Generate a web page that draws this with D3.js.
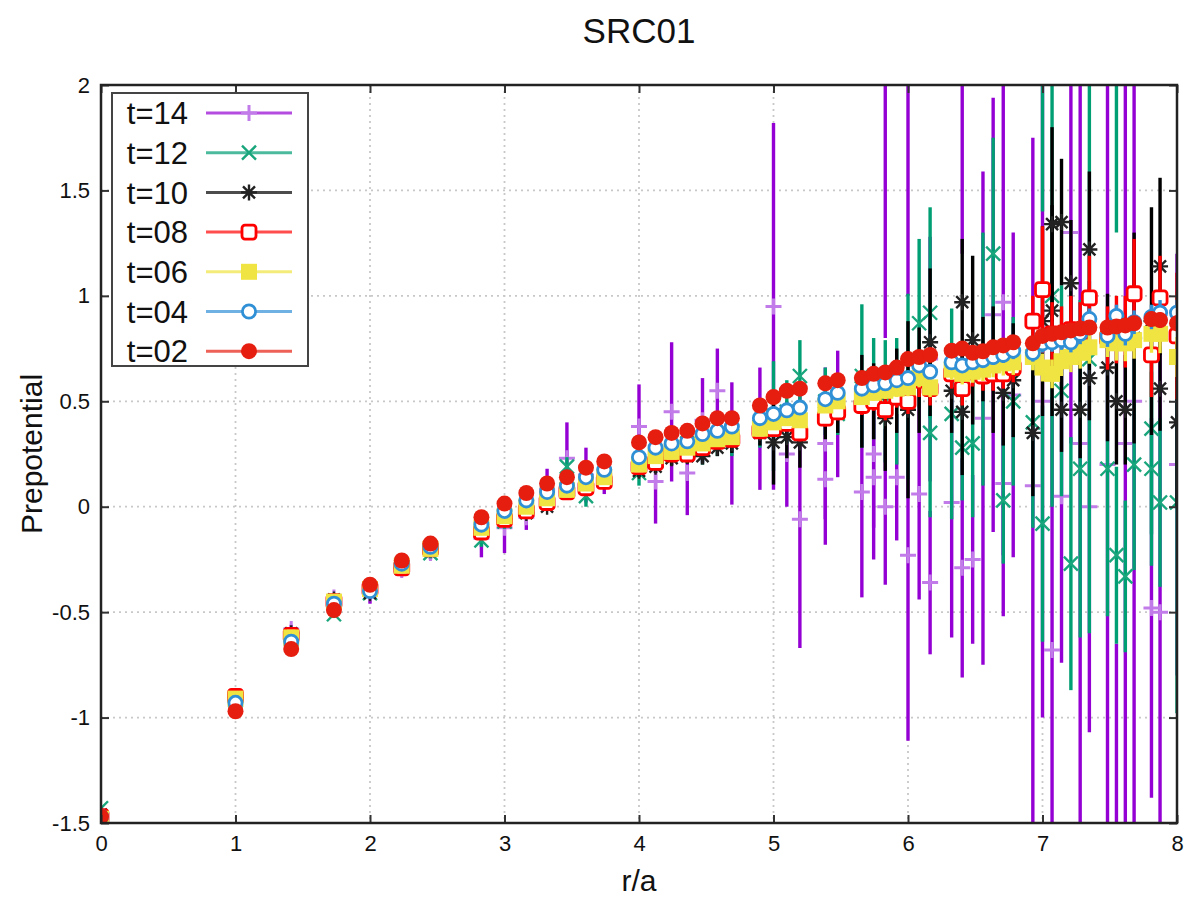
<!DOCTYPE html>
<html>
<head>
<meta charset="utf-8">
<script src="https://d3js.org/d3.v7.min.js"></script>
<style>
body { margin: 0; background: #fff; }
text { font-family: "Liberation Sans", Arial, Helvetica, sans-serif; }
</style>
</head>
<body>
<svg id="drawing_region"></svg>
<script>
// r/a positions (sqrt of lattice distances)
const rValues = [0, 1, 1.4142, 1.7321, 2, 2.2361, 2.4495, 2.8284, 3, 3.1623, 3.3166, 3.4641, 3.6056, 3.7417,
    4, 4.1231, 4.2426, 4.3589, 4.4721, 4.5826, 4.6904, 4.8990, 5, 5.0990, 5.1962, 5.3852, 5.4772, 5.6569,
    5.7446, 5.8310, 5.9161, 6, 6.0828, 6.1644, 6.3246, 6.4031, 6.4807, 6.5574, 6.6332, 6.7082, 6.7823,
    6.9282, 7, 7.0711, 7.1414, 7.2111, 7.2801, 7.3485, 7.4833, 7.5498, 7.6158, 7.6811, 7.8102, 7.8740, 8];

const t14 = [-1.47, -0.91, -0.58, -0.43, -0.41, -0.30, -0.22, -0.15, -0.10, -0.05, 0.08, 0.23, 0.15, 0.15, 0.38, 0.12, 0.45, 0.16, 0.41, 0.55, 0.30,
    0.37, 0.95, 0.25, -0.06, 0.13, 0.44, 0.07, 0.14, 0.0, 0.14,
    -0.23, 0.06, -0.36, 0.02, -0.29, -0.25, 0.42, 0.91, 0.11, 0.53,
    0.1, 0.5, -0.68, 0.05, 1.3, 0.3, 0.0, 0.2, -1.6, 0.3, 0.5, -0.48, -0.5, 0.2];
const t14Err = [0.010, 0.015, 0.020, 0.020, 0.050, 0.030, 0.030, 0.090, 0.120, 0.060, 0.100, 0.170, 0.130, 0.090, 0.200, 0.200, 0.330, 0.200, 0.200, 0.200, 0.290,
    0.29, 0.87, 0.25, 0.61, 0.31, 0.30, 0.50, 0.39, 0.37, 0.30,
    0.88, 0.50, 0.34, 0.64, 0.52, 0.40, 1.17, 1.03, 0.63, 0.77,
    1.65, 1.50, 1.20, 0.79, 1.00, 2.00, 1.07, 2.00, 0.95, 1.90, 2.20, 0.90, 1.50, 1.00];
// second path with the same r
const t14ExtraR = [5.3852, 5.7446, 5.8310, 6, 6.1644, 6.4031, 6.7082];
const t14Extra = [0.30, 0.25, 2.3, 2.2, 0.7, 2.5, 0.97];
const t14ExtraErr = [0.36, 0.35, 1.5, 1.2, 0.58, 1.3, 1.2];

const t12 = [-1.43, -0.92, -0.63, -0.51, -0.41, -0.29, -0.22, -0.16, -0.07, 0.0, 0.06, 0.19, 0.05, 0.15, 0.16, 0.22, 0.28, 0.30, 0.28, 0.32, 0.33,
    0.38, 0.43, 0.45, 0.62, 0.50, 0.44, 0.62, 0.56, 0.50, 0.50,
    0.57, 0.87, 0.35, 0.44, 0.28, 0.30, 0.70, 1.20, 0.03, 0.50,
    0.40, -0.08, 1.0, 0.55, -0.27, 0.18, 0.7, 0.18, -0.23, -0.33, 0.20, 0.18, 0.02, 0.02];
const t12Err = [0.010, 0.012, 0.015, 0.018, 0.020, 0.022, 0.025, 0.030, 0.035, 0.040, 0.040, 0.045, 0.050, 0.050, 0.060, 0.060, 0.070, 0.070, 0.080, 0.080, 0.090,
    0.10, 0.26, 0.15, 0.17, 0.16, 0.10, 0.34, 0.24, 0.29, 0.30,
    0.44, 0.40, 0.40, 0.50, 0.25, 0.35, 0.60, 0.55, 0.30, 0.40,
    0.50, 0.56, 1.00, 0.50, 0.60, 0.80, 1.30, 0.70, 0.42, 0.36, 0.50, 0.46, 0.40, 1.00];
const t12ExtraR = [6.1644, 7, 7.5498, 7.8102];
const t12Extra = [0.92, 2.4, 2.3, 0.37];
const t12ExtraErr = [0.5, 1.0, 1.0, 0.5];

const t10 = [-1.46, -0.90, -0.60, -0.44, -0.41, -0.29, -0.20, -0.12, -0.06, -0.03, 0.0, 0.07, 0.09, 0.12, 0.17, 0.19, 0.23, 0.24, 0.24, 0.28, 0.30,
    0.35, 0.305, 0.33, 0.305, 0.42, 0.45, 0.50, 0.50, 0.42, 0.55,
    0.46, 0.60, 0.78, 0.55, 0.97, 0.79, 0.70, 0.65, 0.54, 0.60,
    0.35, 0.88, 1.34, 1.35, 1.06, 0.46, 1.22, 0.66, 0.50, 0.46, 0.80, 0.88, 1.14, 0.40];
const t10Err = [0.006, 0.008, 0.009, 0.010, 0.010, 0.012, 0.013, 0.015, 0.016, 0.017, 0.018, 0.020, 0.022, 0.024, 0.030, 0.030, 0.035, 0.035, 0.040, 0.040, 0.045,
    0.06, 0.20, 0.10, 0.12, 0.10, 0.10, 0.22, 0.18, 0.25, 0.20,
    0.42, 0.25, 0.35, 0.20, 0.30, 0.40, 0.20, 0.30, 0.25, 0.27,
    0.30, 0.45, 0.46, 0.30, 0.30, 0.23, 0.37, 0.35, 0.30, 0.26, 0.50, 0.54, 0.42, 0.40];
const t10ExtraR = [6.4031, 7.0711, 7.1414, 7.3485, 7.8740];
const t10Extra = [0.45, 0.93, 0.46, 0.61, 0.56];
const t10ExtraErr = [0.3, 0.5, 0.2, 0.2, 0.2];

const t08 = [-1.47, -0.90, -0.61, -0.45, -0.39, -0.29, -0.20, -0.12, -0.06, -0.02, 0.02, 0.07, 0.09, 0.12, 0.19, 0.21, 0.25, 0.25, 0.28, 0.31, 0.32,
    0.36, 0.37, 0.395, 0.35, 0.42, 0.45, 0.48, 0.50, 0.46, 0.52,
    0.50, 0.60, 0.56, 0.63, 0.56, 0.64, 0.62, 0.63, 0.63, 0.66,
    0.88, 1.03, 0.82, 0.80, 0.84, 0.82, 0.99, 0.80, 0.84, 0.83, 1.01, 0.72, 0.99, 0.81];
const t08Err = [0.008, 0.009, 0.010, 0.011, 0.012, 0.013, 0.014, 0.015, 0.016, 0.017, 0.018, 0.019, 0.020, 0.021, 0.022, 0.023, 0.024, 0.025, 0.026, 0.027, 0.028,
    0.030, 0.030, 0.035, 0.040, 0.040, 0.040, 0.045, 0.045, 0.050, 0.050,
    0.060, 0.080, 0.080, 0.070, 0.080, 0.070, 0.070, 0.080, 0.070, 0.070,
    0.12, 0.30, 0.15, 0.15, 0.16, 0.15, 0.20, 0.15, 0.16, 0.17, 0.26, 0.20, 0.20, 0.30];

const t06 = [-1.48, -0.91, -0.62, -0.45, -0.39, -0.28, -0.20, -0.10, -0.045, 0.0, 0.04, 0.08, 0.11, 0.14, 0.20, 0.24, 0.26, 0.28, 0.30, 0.32, 0.33,
    0.37, 0.40, 0.42, 0.41, 0.48, 0.50, 0.52, 0.54, 0.55, 0.56,
    0.566, 0.61, 0.566, 0.65, 0.63, 0.64, 0.65, 0.67, 0.68, 0.685,
    0.71, 0.66, 0.63, 0.69, 0.71, 0.73, 0.756, 0.79, 0.775, 0.775, 0.79, 0.82, 0.82, 0.71];
const t06Err = [0.007, 0.008, 0.009, 0.010, 0.010, 0.011, 0.012, 0.013, 0.014, 0.014, 0.015, 0.016, 0.017, 0.018, 0.019, 0.020, 0.021, 0.022, 0.023, 0.024, 0.025,
    0.027, 0.028, 0.030, 0.031, 0.033, 0.034, 0.036, 0.037, 0.039, 0.040,
    0.042, 0.044, 0.046, 0.048, 0.050, 0.052, 0.054, 0.056, 0.058, 0.060,
    0.063, 0.066, 0.068, 0.070, 0.072, 0.075, 0.078, 0.080, 0.082, 0.085, 0.088, 0.090, 0.092, 0.095];

const t04 = [-1.47, -0.93, -0.64, -0.46, -0.40, -0.27, -0.19, -0.085, -0.02, 0.03, 0.07, 0.10, 0.14, 0.175, 0.235, 0.28, 0.30, 0.31, 0.345, 0.36, 0.38,
    0.42, 0.44, 0.457, 0.47, 0.51, 0.54, 0.56, 0.576, 0.585, 0.60,
    0.61, 0.67, 0.64, 0.685, 0.67, 0.685, 0.695, 0.71, 0.72, 0.74,
    0.73, 0.775, 0.78, 0.79, 0.78, 0.82, 0.89, 0.81, 0.905, 0.82, 0.875, 0.90, 0.92, 0.92];
const t04Err = [0.006, 0.007, 0.007, 0.008, 0.008, 0.009, 0.009, 0.010, 0.010, 0.011, 0.011, 0.012, 0.012, 0.013, 0.014, 0.014, 0.015, 0.015, 0.016, 0.016, 0.017,
    0.019, 0.020, 0.021, 0.022, 0.023, 0.024, 0.025, 0.026, 0.027, 0.028,
    0.030, 0.031, 0.032, 0.033, 0.034, 0.035, 0.036, 0.037, 0.038, 0.040,
    0.042, 0.044, 0.045, 0.046, 0.048, 0.049, 0.050, 0.052, 0.053, 0.055, 0.056, 0.058, 0.060, 0.062];

const t02 = [-1.47, -0.97, -0.675, -0.49, -0.37, -0.255, -0.175, -0.05, 0.015, 0.065, 0.11, 0.14, 0.185, 0.215, 0.305, 0.33, 0.35, 0.36, 0.395, 0.42, 0.42,
    0.48, 0.52, 0.55, 0.56, 0.585, 0.60, 0.61, 0.63, 0.637, 0.66,
    0.70, 0.71, 0.72, 0.74, 0.75, 0.73, 0.737, 0.756, 0.765, 0.78,
    0.775, 0.81, 0.82, 0.827, 0.836, 0.845, 0.85, 0.85, 0.855, 0.86, 0.87, 0.89, 0.885, 0.87];
const t02Err = [0.005, 0.006, 0.006, 0.006, 0.007, 0.007, 0.007, 0.008, 0.008, 0.009, 0.009, 0.009, 0.010, 0.010, 0.011, 0.011, 0.011, 0.012, 0.012, 0.013, 0.013,
    0.014, 0.015, 0.015, 0.016, 0.016, 0.017, 0.018, 0.018, 0.019, 0.019,
    0.020, 0.021, 0.021, 0.022, 0.023, 0.023, 0.024, 0.024, 0.025, 0.026,
    0.027, 0.028, 0.028, 0.029, 0.030, 0.031, 0.031, 0.032, 0.033, 0.034, 0.035, 0.036, 0.037, 0.038];

const labels = ['t=14', 't=12', 't=10', 't=08', 't=06', 't=04', 't=02'];
const xTicks = [0, 1, 2, 3, 4, 5, 6, 7, 8];
const yTicks = [-1.5, -1, -0.5, 0, 0.5, 1, 1.5, 2];

function toPoints(rs, vs, es) {
    return rs.map((r, i) => ({ r: r, v: vs[i], e: es[i] }));
}

const series = [
    { label: labels[0], color: '#9400d3', mark: '#c27ce9', type: 'plus',
      points: toPoints(rValues, t14, t14Err).concat(toPoints(t14ExtraR, t14Extra, t14ExtraErr)) },
    { label: labels[1], color: '#009e73', mark: '#1aa67c', type: 'cross',
      points: toPoints(rValues, t12, t12Err).concat(toPoints(t12ExtraR, t12Extra, t12ExtraErr)) },
    { label: labels[2], color: '#000000', mark: '#222222', type: 'star',
      points: toPoints(rValues, t10, t10Err).concat(toPoints(t10ExtraR, t10Extra, t10ExtraErr)) },
    { label: labels[3], color: '#ff0000', mark: '#ff0000', type: 'sqOpen', points: toPoints(rValues, t08, t08Err) },
    { label: labels[4], color: '#f0e442', mark: '#f0e442', type: 'sqFill', points: toPoints(rValues, t06, t06Err) },
    { label: labels[5], color: '#3090d6', mark: '#3090d6', type: 'circOpen', points: toPoints(rValues, t04, t04Err) },
    { label: labels[6], color: '#e51e10', mark: '#e51e10', type: 'circFill', points: toPoints(rValues, t02, t02Err) }
];

function drawMarker(g, type, color) {
    if (type == 'plus') {
        g.append('path').attr('d', 'M-8,0H8M0,-8V8')
            .attr('stroke', color).attr('stroke-width', 3).attr('fill', 'none');
    } else if (type == 'cross') {
        g.append('path').attr('d', 'M-7,-7L7,7M-7,7L7,-7')
            .attr('stroke', color).attr('stroke-width', 2.4).attr('fill', 'none');
    } else if (type == 'star') {
        g.append('path').attr('d', 'M-8,0H8M0,-8V8M-6,-6L6,6M-6,6L6,-6')
            .attr('stroke', color).attr('stroke-width', 2.4).attr('fill', 'none');
    } else if (type == 'sqOpen') {
        g.append('rect').attr('x', -7).attr('y', -7).attr('width', 14).attr('height', 14).attr('rx', 3)
            .attr('fill', '#fff').attr('stroke', color).attr('stroke-width', 2.8);
    } else if (type == 'sqFill') {
        g.append('rect').attr('x', -8).attr('y', -8).attr('width', 16).attr('height', 16)
            .attr('fill', color);
    } else if (type == 'circOpen') {
        g.append('circle').attr('r', 6.6)
            .attr('fill', '#fff').attr('stroke', color).attr('stroke-width', 2.8);
    } else {
        g.append('circle').attr('r', 8).attr('fill', color);
    }
}

class ErrorBarChart {
    constructor(config, series) {
        this.config = {
            parent: config.parent,
            width: config.width || 1187,
            height: config.height || 899,
            margin: config.margin || {top: 85, right: 10, bottom: 76, left: 101}
        };
        this.series = series;
        this.init();
    }

    init() {
        let self = this;
        self.svg = d3.select(self.config.parent)
            .attr('width', self.config.width)
            .attr('height', self.config.height);

        self.inner_width = self.config.width - self.config.margin.left - self.config.margin.right;
        self.inner_height = self.config.height - self.config.margin.top - self.config.margin.bottom;

        self.chart = self.svg.append('g')
            .attr('transform', `translate(${self.config.margin.left}, ${self.config.margin.top})`);

        self.svg.append('defs').append('clipPath').attr('id', 'plotclip')
            .append('rect').attr('width', self.inner_width).attr('height', self.inner_height);

        self.xscale = d3.scaleLinear()
            .domain([0, 8])
            .range([0, self.inner_width]);
        self.yscale = d3.scaleLinear()
            .domain([-1.5, 2])
            .range([self.inner_height, 0]);

        self.xaxis = d3.axisBottom(self.xscale).tickValues(xTicks)
            .tickFormat(d => String(d)).tickSizeInner(-8).tickSizeOuter(0).tickPadding(12);
        self.yaxis = d3.axisLeft(self.yscale).tickValues(yTicks)
            .tickFormat(d => String(d)).tickSizeInner(-8).tickSizeOuter(0).tickPadding(11);
        self.xaxis_top = d3.axisTop(self.xscale).tickValues(xTicks)
            .tickFormat('').tickSizeInner(-8).tickSizeOuter(0);
        self.yaxis_right = d3.axisRight(self.yscale).tickValues(yTicks)
            .tickFormat('').tickSizeInner(-8).tickSizeOuter(0);
    }

    render() {
        let self = this;

        // dotted grid
        const grid = self.chart.append('g');
        grid.selectAll('.vgrid')
            .data(xTicks.slice(1, -1))
            .enter().append('line')
            .attr('x1', d => self.xscale(d)).attr('x2', d => self.xscale(d))
            .attr('y1', 0).attr('y2', self.inner_height)
            .attr('stroke', '#c8c8c8').attr('stroke-width', 1.8).attr('stroke-dasharray', '2,4');
        grid.selectAll('.hgrid')
            .data(yTicks.slice(1, -1))
            .enter().append('line')
            .attr('x1', 0).attr('x2', self.inner_width)
            .attr('y1', d => self.yscale(d)).attr('y2', d => self.yscale(d))
            .attr('stroke', '#c8c8c8').attr('stroke-width', 1.8).attr('stroke-dasharray', '2,4');

        const plot = self.chart.append('g').attr('clip-path', 'url(#plotclip)');
        self.series.forEach(s => {
            const g = plot.append('g');
            g.selectAll('line')
                .data(s.points)
                .enter().append('line')
                .attr('x1', d => self.xscale(d.r)).attr('x2', d => self.xscale(d.r))
                .attr('y1', d => self.yscale(d.v - d.e)).attr('y2', d => self.yscale(d.v + d.e))
                .attr('stroke', s.color).attr('stroke-width', 3.4);
            g.selectAll('g.pt')
                .data(s.points)
                .enter().append('g')
                .attr('class', 'pt')
                .attr('transform', d => `translate(${self.xscale(d.r)}, ${self.yscale(d.v)})`)
                .each(function() { drawMarker(d3.select(this), s.type, s.mark); });
        });

        // axes
        const xg = self.chart.append('g')
            .attr('transform', `translate(0, ${self.inner_height})`)
            .call(self.xaxis);
        const yg = self.chart.append('g').call(self.yaxis);
        self.chart.append('g').call(self.xaxis_top);
        self.chart.append('g').attr('transform', `translate(${self.inner_width}, 0)`).call(self.yaxis_right);
        self.chart.selectAll('.domain').remove();
        self.chart.selectAll('.tick line').attr('stroke', '#333').attr('stroke-width', 2);
        xg.selectAll('text').attr('font-size', '22px').attr('fill', '#111');
        yg.selectAll('text').attr('font-size', '22px').attr('fill', '#111');

        // legend
        const legend = self.chart.append('g').attr('transform', 'translate(11, 8)');
        legend.append('rect')
            .attr('width', 196).attr('height', 273)
            .attr('fill', '#fff').attr('stroke', '#444').attr('stroke-width', 2);
        const item = legend.selectAll('g.item')
            .data(self.series)
            .enter().append('g')
            .attr('class', 'item')
            .attr('transform', (d, i) => `translate(0, ${20 + i * 39.7})`);
        item.append('text')
            .attr('x', 76).attr('dy', '0.36em')
            .attr('text-anchor', 'end')
            .attr('font-size', '31px').attr('fill', '#111')
            .text(d => d.label);
        item.append('line')
            .attr('x1', 94).attr('x2', 180)
            .attr('stroke', d => d.color).attr('stroke-width', 3).attr('stroke-opacity', 0.7);
        item.append('g')
            .attr('transform', 'translate(137, 0)')
            .each(function(d) { drawMarker(d3.select(this), d.type, d.mark); });

        // frame
        self.chart.append('rect')
            .attr('width', self.inner_width).attr('height', self.inner_height)
            .attr('fill', 'none').attr('stroke', '#222').attr('stroke-width', 2.5);

        // titles
        self.svg.append('text')
            .attr('x', self.config.margin.left + self.inner_width / 2).attr('y', 43)
            .attr('text-anchor', 'middle').attr('font-size', '35px').attr('fill', '#111')
            .text('SRC01');
        self.svg.append('text')
            .attr('x', self.config.margin.left + self.inner_width / 2).attr('y', 891)
            .attr('text-anchor', 'middle').attr('font-size', '30px').attr('fill', '#111')
            .text('r/a');
        self.svg.append('text')
            .attr('transform', `translate(42, ${self.config.margin.top + self.inner_height / 2}) rotate(-90)`)
            .attr('text-anchor', 'middle').attr('font-size', '30px').attr('fill', '#111')
            .text('Prepotential');
    }
}

const chart = new ErrorBarChart({
    parent: '#drawing_region',
    width: 1187,
    height: 899,
    margin: {top: 85, right: 10, bottom: 76, left: 101}
}, series);
chart.render();
</script>
</body>
</html>
